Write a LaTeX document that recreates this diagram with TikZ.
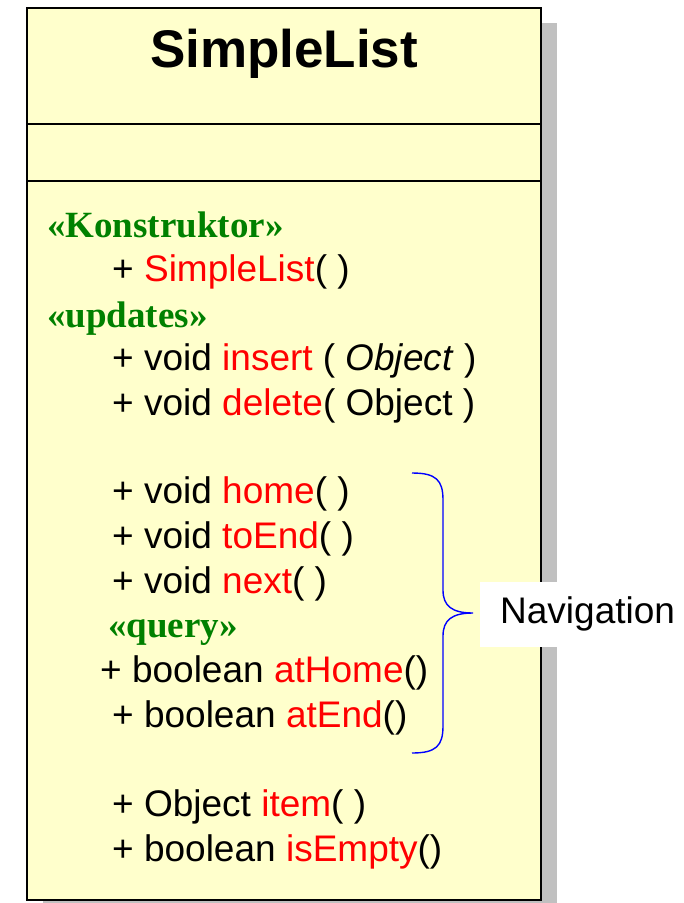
\documentclass[tikz,border=0pt]{standalone}
\usepackage{fontspec}
\setmainfont{Liberation Sans}
\newfontfamily\stereofont{Liberation Serif}
\usepackage{tikz}
\usetikzlibrary{shadows}
\definecolor{notefill}{RGB}{255,255,204}
\definecolor{shadowgray}{RGB}{192,192,192}
\definecolor{stereogreen}{RGB}{0,128,0}
\definecolor{opred}{RGB}{255,0,0}
\definecolor{braceblue}{RGB}{0,0,255}
\newcommand{\mth}[1]{\textcolor{opred}{#1}}

\begin{document}
\begin{tikzpicture}[
    x=1pt, y=-1pt,
    umlclass/.style={
        rectangle,
        draw=black,
        line width=1.8pt,
        fill=notefill,
        minimum width=514pt,
        minimum height=892pt,
        inner sep=0pt,
        drop shadow={shadow xshift=16pt, shadow yshift=-15pt,
                     fill=shadowgray, opacity=1},
    },
    divider/.style={line width=1.4pt},
    title/.style={anchor=base, inner sep=0pt,
        font=\fontsize{53}{62}\selectfont\bfseries},
    member/.style={anchor=base west, inner sep=0pt,
        font=\fontsize{37}{44}\selectfont},
    stereo/.style={anchor=base west, inner sep=0pt, text=stereogreen,
        font=\stereofont\fontsize{37}{44}\selectfont\bfseries},
    navbrace/.style={draw=braceblue, line width=1.4pt},
    navlabel/.style={anchor=west, fill=white, inner xsep=20pt,
        minimum height=65pt, font=\fontsize{37}{44}\selectfont}
]
\useasboundingbox (0,0) rectangle (684,903);

% class box with its three compartments
\node[umlclass] (cls) at (284,454) {};
\draw[divider] (cls.west |- 0,124) -- (cls.east |- 0,124);
\draw[divider] (cls.west |- 0,181) -- (cls.east |- 0,181);

\node[title] (name) at (284,67) {SimpleList};

% operations
\node[stereo] (stKon) at (47,237) {«Konstruktor»};
\node[member] (opNew) at (112,281) {+ \mth{SimpleList}( )};
\node[stereo] (stUpd) at (47,327) {«updates»};
\node[member] (opIns) at (112,370) {+ void \mth{insert} ( \textit{Object} )};
\node[member] (opDel) at (112,415) {+ void \mth{delete}( Object )};
\node[member] (opHome) at (112,503) {+ void \mth{home}( )};
\node[member] (opEnd) at (112,548) {+ void \mth{toEnd}( )};
\node[member] (opNext) at (112,593) {+ void \mth{next}( )};
\node[stereo] (stQry) at (108,637) {«query»};
\node[member] (opAtHome) at (100,682) {+ boolean \mth{atHome}()};
\node[member] (opAtEnd) at (112,727) {+ boolean \mth{atEnd}()};
\node[member] (opItem) at (112,816) {+ Object \mth{item}( )};
\node[member] (opEmpty) at (112,861) {+ boolean \mth{isEmpty}()};

% navigation group
\coordinate (bTop) at (412,473);
\coordinate (bTip) at (473,613);
\coordinate (bBot) at (412,753);
\draw[navbrace] (bTop) .. controls (436,473) and (443,480) .. (443,500)
    -- (443,590) .. controls (443,606) and (452,613) .. (bTip)
    .. controls (452,613) and (443,620) .. (443,636)
    -- (443,726) .. controls (443,746) and (436,753) .. (bBot);
\node[navlabel] (nav) at (480,614) {Navigation};
\end{tikzpicture}
\end{document}
